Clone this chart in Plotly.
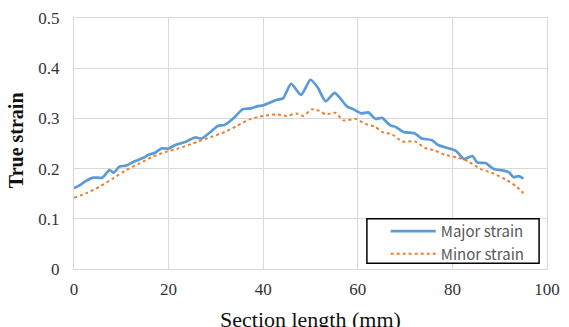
import plotly.graph_objects as go

# Major strain (blue, solid)
major_x = [0, 1.25, 2.3, 4, 6, 7.5, 8.4, 9.6, 11, 12.7, 14.8, 15.8, 17, 18.5, 20, 21.4, 23.5, 25.6, 27,
           29, 30.4, 31.8, 33.9, 35.6, 37.4, 38.75, 40, 42.9, 44.2, 45.9, 48, 50, 51.5, 53.2, 55.1, 56.3,
           57.7, 59.1, 60.8, 62.2, 63.75, 65.1, 66.9, 68, 69.7, 72.1, 73.5, 75.6, 77, 79, 80.8, 82.5,
           84.2, 85.3, 87, 88.75, 90.8, 91.9, 92.9, 94, 95]
major_y = [0.161, 0.167, 0.174, 0.182, 0.182, 0.197, 0.192, 0.204, 0.206, 0.214, 0.222, 0.228, 0.231,
           0.240, 0.240, 0.247, 0.253, 0.262, 0.260, 0.274, 0.285, 0.287, 0.302, 0.318, 0.320, 0.324,
           0.326, 0.337, 0.340, 0.369, 0.347, 0.377, 0.362, 0.334, 0.351, 0.340, 0.324, 0.318, 0.310,
           0.312, 0.299, 0.301, 0.286, 0.283, 0.273, 0.270, 0.260, 0.257, 0.247, 0.241, 0.235, 0.219,
           0.225, 0.212, 0.211, 0.199, 0.196, 0.193, 0.183, 0.185, 0.180]

# Minor strain (orange, dotted)
minor_x = [0, 2.6, 5.4, 8.2, 11, 13.75, 16.5, 19.3, 22, 24.8, 26.25, 29, 31.9, 34.6, 37.4, 40, 42.9,
           45, 47, 48.5, 50.2, 51.9, 53.2, 55.3, 57, 59.6, 61.6, 63.75, 65.1, 67.3, 69.4, 72.1, 74.2,
           76.25, 78.3, 81.1, 83.2, 86, 88.75, 91.5, 93.6, 95]
minor_y = [0.142, 0.151, 0.164, 0.180, 0.197, 0.210, 0.223, 0.233, 0.240, 0.249, 0.254, 0.263, 0.273,
           0.286, 0.299, 0.305, 0.308, 0.305, 0.310, 0.305, 0.318, 0.315, 0.308, 0.311, 0.296, 0.299,
           0.289, 0.283, 0.273, 0.268, 0.254, 0.254, 0.241, 0.236, 0.228, 0.222, 0.215, 0.199, 0.190,
           0.177, 0.164, 0.151]

x_ticks = [0, 20, 40, 60, 80, 100]
y_ticks = [0, 0.1, 0.2, 0.3, 0.4, 0.5]
y_ticklabels = ["0", "0.1", "0.2", "0.3", "0.4", "0.5"]

fig = go.Figure()
fig.add_trace(go.Scatter(x=major_x, y=major_y, mode="lines", name="Major strain",
                         line=dict(color="#5B9BD5", width=2.7, shape="spline", smoothing=0.6)))
fig.add_trace(go.Scatter(x=minor_x, y=minor_y, mode="lines", name="Minor strain",
                         line=dict(color="#ED7D31", width=2, dash="dot", shape="spline", smoothing=0.6)))

serif = "Liberation Serif, Times New Roman, serif"
PW = 478.0
PH = 260.0
def px_x(p):
    return (p - 74) / PW
def px_y(p):
    return (269 - p) / PH

fig.update_layout(
    width=569, height=327,
    margin=dict(l=74, r=17, t=9, b=58),
    paper_bgcolor="white", plot_bgcolor="white",
    showlegend=True,
    legend=dict(x=px_x(389), y=px_y(213), xanchor="left", yanchor="top",
                bgcolor="rgba(0,0,0,0)", borderwidth=0,
                font=dict(family="Noto Sans CJK KR, Noto Sans, sans-serif", size=15, color="#595959"),
                itemwidth=45, tracegroupgap=0),
    shapes=[dict(type="rect", xref="paper", yref="paper",
                 x0=px_x(370), x1=px_x(544), y0=px_y(263), y1=px_y(217),
                 line=dict(color="#000000", width=1.5), fillcolor="white", layer="above")],
    xaxis=dict(range=[0, 100], tickvals=x_ticks, showgrid=True, gridcolor="#d9d9d9", gridwidth=1,
               showline=True, linecolor="#d9d9d9", mirror=True, zeroline=False,
               ticks="outside", ticklen=5, tickcolor="white",
               tickfont=dict(family=serif, size=17, color="#333333")),
    yaxis=dict(range=[0, 0.5], tickvals=y_ticks, ticktext=y_ticklabels, showgrid=True,
               gridcolor="#d9d9d9", gridwidth=1, showline=True, linecolor="#d9d9d9", mirror=True,
               zeroline=False, ticks="outside", ticklen=10, tickcolor="white",
               tickfont=dict(family=serif, size=17, color="#333333")),
    annotations=[
        dict(text="Section length (mm)", xref="paper", yref="paper", x=0.5, y=-0.142,
             xanchor="center", yanchor="top", showarrow=False,
             font=dict(family=serif, size=22, color="#111111")),
        dict(text="<b>True strain</b>", xref="paper", yref="paper", x=px_x(15), y=px_y(136),
             xanchor="center", yanchor="middle", showarrow=False, textangle=-90,
             font=dict(family=serif, size=20, color="#111111")),
    ],
)

fig.write_html("out.html")
